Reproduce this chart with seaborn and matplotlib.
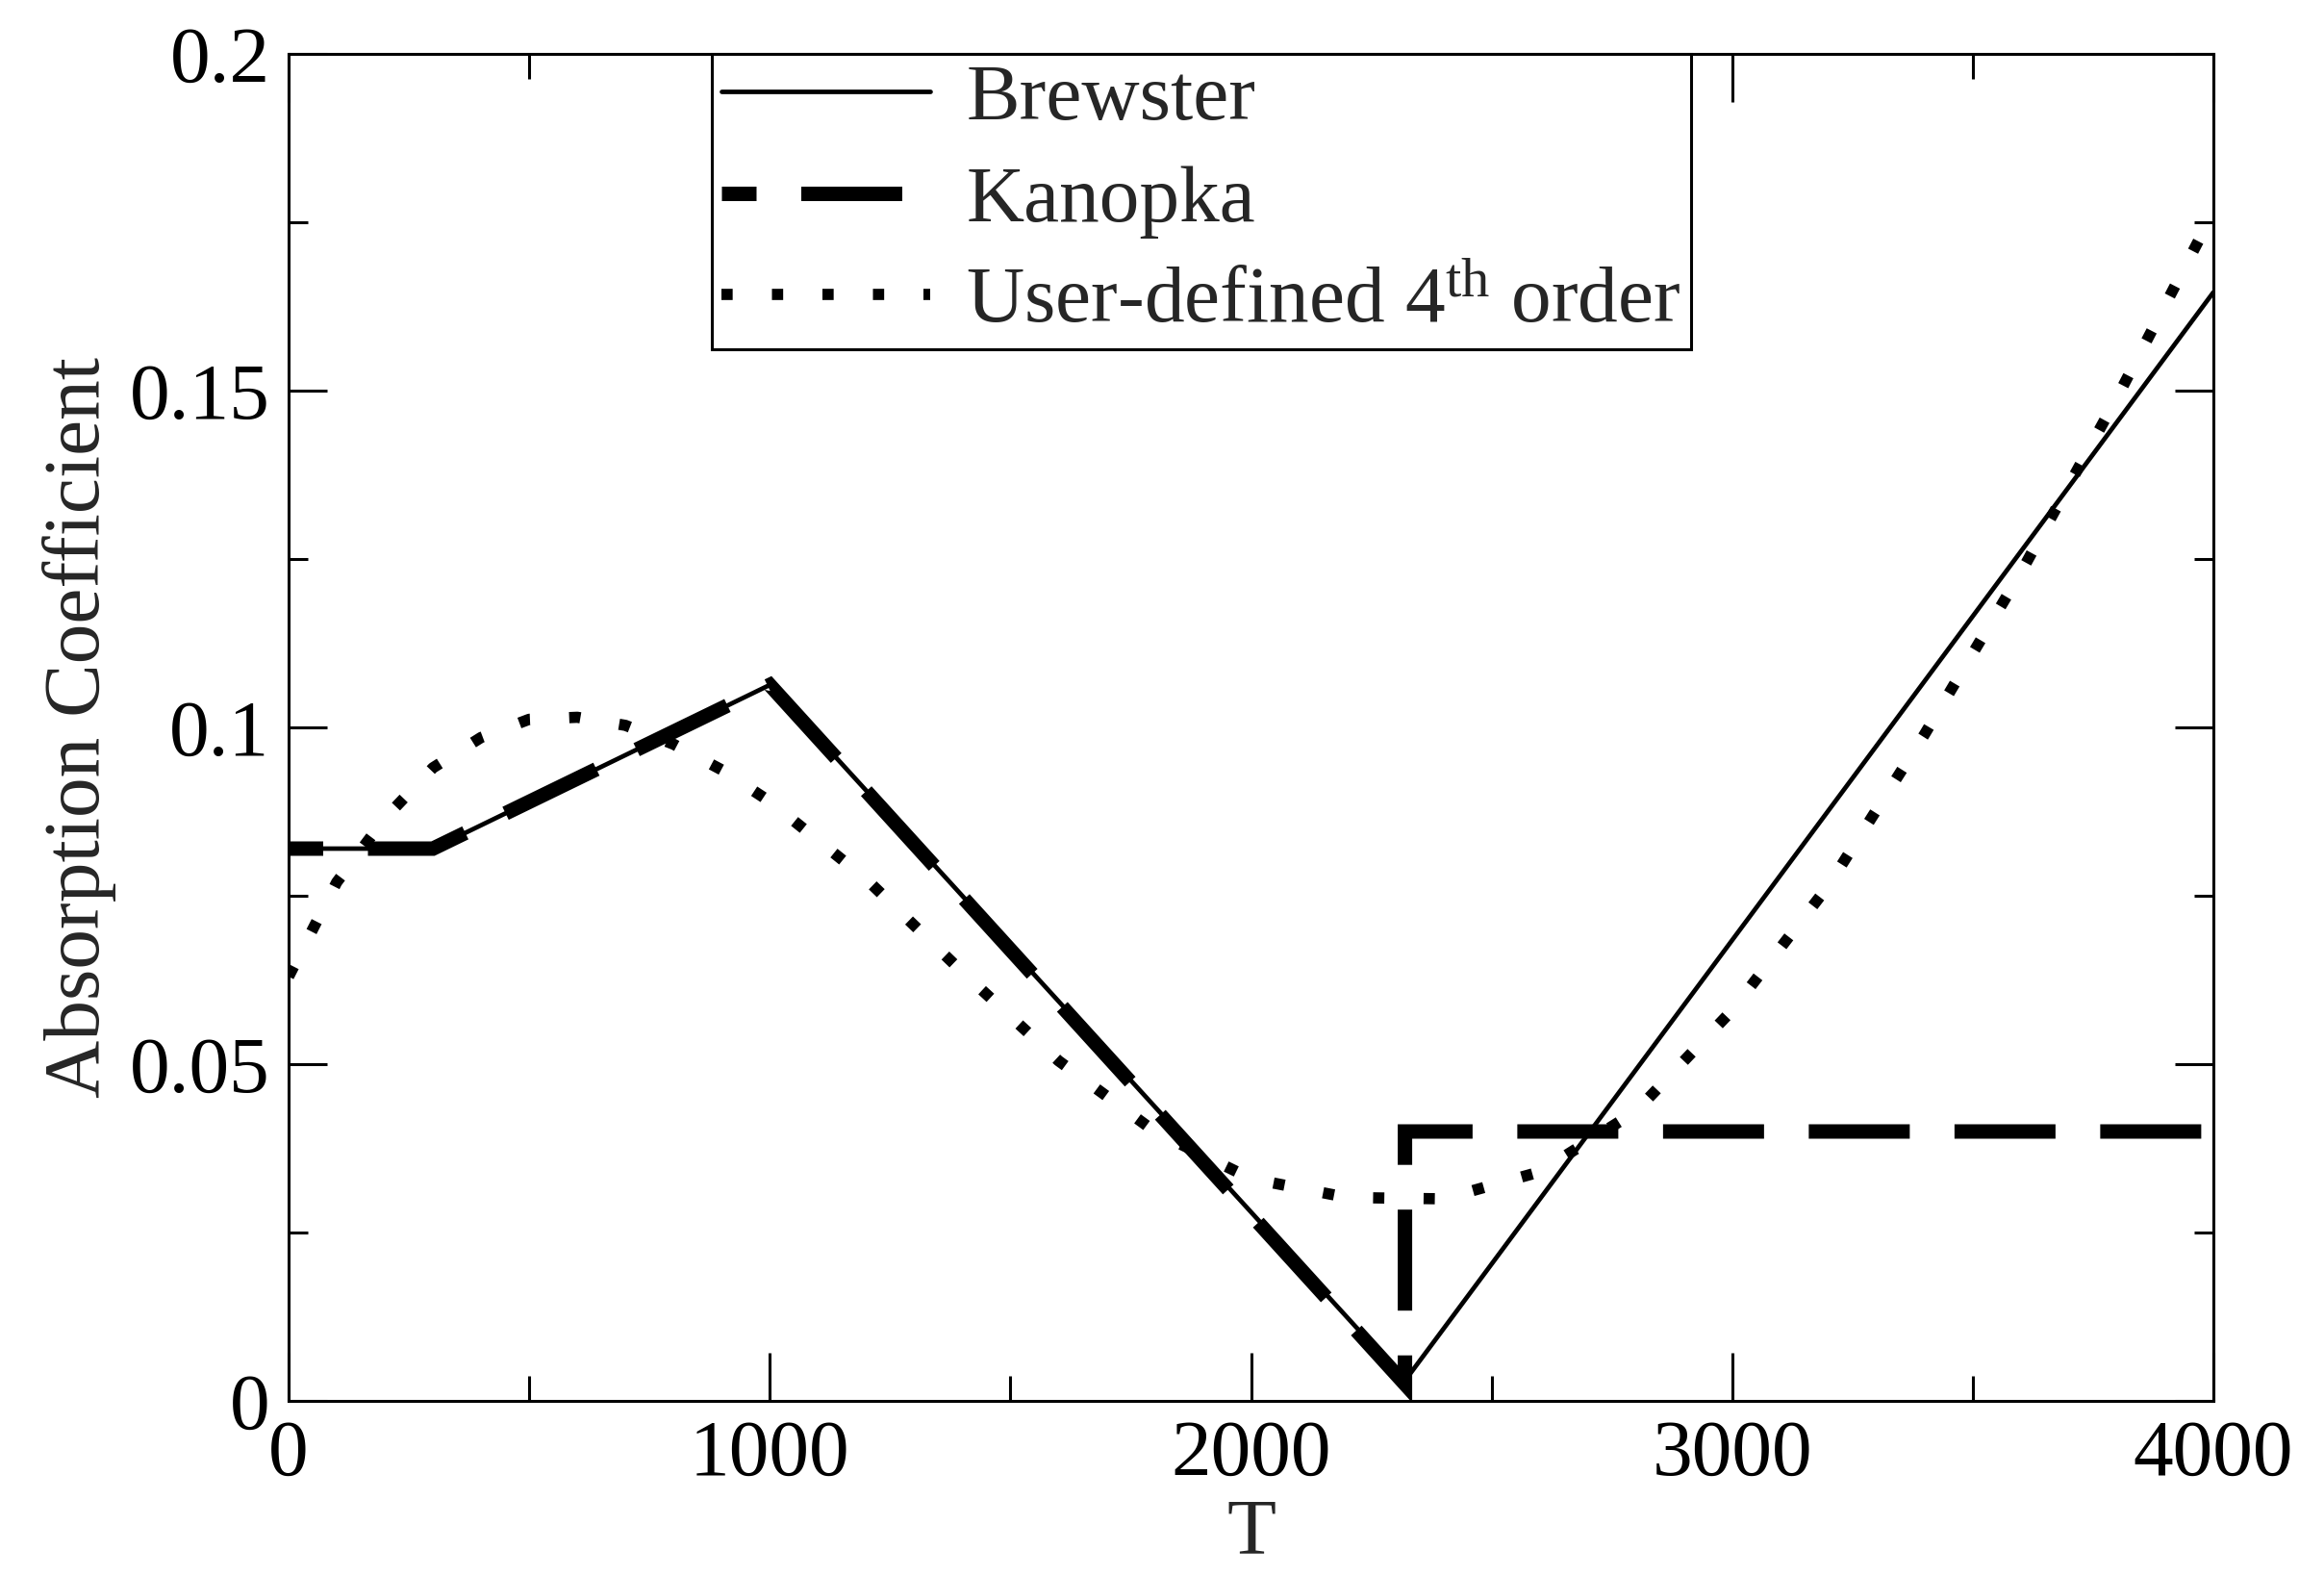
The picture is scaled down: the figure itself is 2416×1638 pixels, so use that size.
import numpy as np
import pandas as pd
import matplotlib
matplotlib.use("Agg")
import matplotlib.pyplot as plt
import seaborn as sns

# Brewster: piecewise linear absorption coefficient vs T
brewster_t = [0, 300, 1000, 2320, 4000]
brewster_a = [0.082, 0.082, 0.1063, 0.003, 0.1646]

# Kanopka: follows Brewster, then jumps to a constant
kanopka_t = [0, 300, 1000, 2320, 2320, 4000]
kanopka_a = [0.082, 0.082, 0.1063, 0.0025, 0.040, 0.040]

# User-defined 4th order fit
user_t = [0, 100, 200, 300, 400, 500, 600, 700, 800, 900, 1000, 1200, 1400,
          1600, 1800, 2000, 2200, 2400, 2600, 2800, 3000, 3200, 3400, 3600,
          3800, 4000]
user_a = [0.063, 0.077, 0.0865, 0.094, 0.0985, 0.1012, 0.1015, 0.1003, 0.0975,
          0.0937, 0.089, 0.0775, 0.0637, 0.0505, 0.0400, 0.0330, 0.0302,
          0.0300, 0.0340, 0.0430, 0.0580, 0.0765, 0.0990, 0.1230, 0.1490,
          0.1765]

x_ticks = [0, 1000, 2000, 3000, 4000]
y_ticks = [0, 0.05, 0.1, 0.15, 0.2]
y_tick_labels = ["0", "0.05", "0.1", "0.15", "0.2"]

sns.set_theme(style="ticks")
plt.rcParams["font.family"] = ["Liberation Serif", "DejaVu Serif"]
plt.rcParams["mathtext.fontset"] = "custom"
plt.rcParams["mathtext.rm"] = "Liberation Serif"
plt.rcParams["mathtext.it"] = "Liberation Serif:italic"

brewster = pd.DataFrame({"T": brewster_t, "A": brewster_a})
kanopka = pd.DataFrame({"T": kanopka_t, "A": kanopka_a})
user = pd.DataFrame({"T": user_t, "A": user_a})

fig = plt.figure(figsize=(12.08, 8.19), dpi=200)
ax = fig.add_axes([300 / 2416, 1 - 1456 / 1638, 2001 / 2416, 1400 / 1638])

sns.lineplot(data=brewster, x="T", y="A", ax=ax, color="black", linewidth=1.7,
             estimator=None, sort=False, label="Brewster")
sns.lineplot(data=kanopka, x="T", y="A", ax=ax, color="black", linewidth=5.4,
             estimator=None, sort=False, label="Kanopka")
sns.lineplot(data=user, x="T", y="A", ax=ax, color="black", linewidth=4.2,
             estimator=None, sort=False, label="User-defined 4$^{\\mathrm{th}}$ order")

lines = ax.get_lines()
lines[1].set_linestyle((4.6, (7.0, 3.1)))
lines[1].set_dash_capstyle("butt")
lines[1].set_dash_joinstyle("miter")
lines[2].set_dashes((1, 3.5))
lines[2].set_dash_capstyle("butt")

ax.set_xlim(0, 4000)
ax.set_ylim(0, 0.2)
ax.set_xticks(x_ticks)
ax.set_yticks(y_ticks)
ax.set_yticklabels(y_tick_labels)
ax.set_xticks([500, 1500, 2500, 3500], minor=True)
ax.set_yticks([0.025, 0.075, 0.125, 0.175], minor=True)

ax.tick_params(axis="both", which="both", direction="in", top=True, right=True,
               width=1.1, colors="black", labelsize=30)
ax.tick_params(axis="x", which="major", length=18, pad=7)
ax.tick_params(axis="x", which="minor", length=9.5)
ax.tick_params(axis="y", which="major", length=14.4, pad=7)
ax.tick_params(axis="y", which="minor", length=7.2)
for s in ax.spines.values():
    s.set_linewidth(1.1)
    s.set_color("black")

ax.set_xlabel("T", fontsize=30, labelpad=2)
ax.set_ylabel("Absorption Coefficient", fontsize=30, labelpad=5)

leg = ax.legend(loc="upper left", bbox_to_anchor=(0.22, 1.0), borderaxespad=0,
                fontsize=30, handlelength=2.6, handletextpad=0.45,
                borderpad=0.12, labelspacing=0.35, fancybox=False,
                framealpha=1, edgecolor="black")
leg.get_frame().set_linewidth(1.1)

fig.savefig("out.png", dpi=200)
